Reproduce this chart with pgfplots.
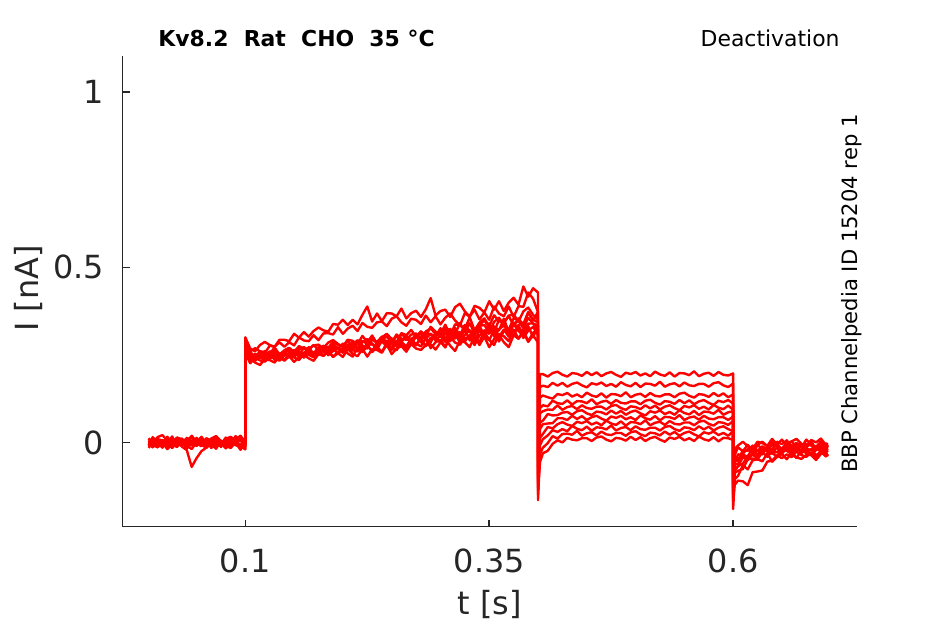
\documentclass[border=0pt]{standalone}
\usepackage{pgfplots}
\pgfplotsset{compat=1.18}
\usepackage{pgfplotstable}
\usepackage{fontspec}
\setmainfont{DejaVu Sans}
\definecolor{axgray}{HTML}{262626}

% t in ms, currents in pA
\pgfplotstableread{
t A B C D E F G H I J K
1 -8 -11 6 11 -2 12 -16 -4 -8 1 4
5 11 3 -12 -10 4 -2 3 -14 15 -8 -9
10 6 10 -1 9 -11 15 -14 7 1 12 -13
15 -3 -4 -15 6 7 21 0 0 -6 -13 -2
20 16 -14 8 -3 -6 5 -19 11 10 -1 -2
25 -1 7 -6 17 -10 -5 -5 -7 -11 5 -16
30 13 0 -13 -8 1 14 2 4 8 -10 1
35 -6 11 3 4 1 9 -12 -10 5 8 7
40 8 -7 -18 10 -13 0 -22 13 -4 -5 -9
45 15 4 1 -5 4 19 -70 -1 16 -9 -19
50 1 -10 -2 13 10 2 -45 -8 -9 2 0
55 -9 13 -11 0 -6 16 -25 8 3 2 -5
60 12 -1 9 -4 -16 -3 -15 -13 9 -12 -14
65 5 -8 -16 7 3 11 -4 6 -6 5 5
70 16 8 -4 7 -2 18 -18 3 12 11 -12
75 -2 -13 2 -7 -11 4 5 -6 -1 -5 2
80 9 6 -13 10 8 -6 -9 14 -5 -15 -17
85 -5 3 5 16 -9 15 -16 -11 6 4 -3
90 18 -6 -8 0 5 8 0 1 6 -1 4
95 4 14 -12 -10 -14 19 -21 7 -8 -10 -10
100 -3 -11 -1 9 0 1 -2 -8 9 9 -20
100 300 290 275 268 262 280 258 270 255 250 265
105 268 260 259 252 252 236 246 233 226 240 227
110 260 269 242 249 237 249 233 253 243 228 246
115 278 260 260 243 249 255 246 243 234 221 242
120 287 255 258 261 238 243 231 238 231 238 253
125 278 276 253 248 259 260 244 253 243 235 238
130 273 273 271 261 248 251 252 236 244 228 249
135 293 286 251 246 244 248 241 253 233 246 238
140 293 273 263 259 259 259 235 252 248 233 259
145 289 286 270 267 243 261 254 246 255 246 248
150 310 277 258 256 260 250 250 264 243 230 243
155 299 300 275 250 259 266 261 244 235 243 258
160 315 291 267 270 253 272 247 256 253 250 242
165 302 289 265 266 272 261 258 263 250 240 259
170 318 306 277 278 252 254 248 251 243 233 257
175 328 292 279 264 265 272 268 268 262 252 252
180 320 311 269 276 271 269 258 260 248 247 270
185 316 312 285 270 260 263 253 257 261 258 249
190 338 308 292 287 277 282 269 269 245 244 261
195 336 329 281 279 268 268 252 270 259 255 268
200 350 310 274 273 266 282 270 260 266 244 256
205 335 325 293 292 279 264 269 278 254 267 276
210 350 333 290 269 281 281 262 285 245 253 263
215 337 318 280 291 266 291 285 270 270 246 260
220 364 341 304 289 287 277 258 261 264 267 274
225 388 330 287 282 295 268 275 283 278 245 276
230 345 327 304 305 280 293 283 280 258 266 261
235 368 343 283 278 271 287 266 270 273 264 282
240 346 345 300 294 292 302 290 295 258 256 289
245 369 332 310 302 290 282 276 277 285 280 274
250 368 353 295 285 280 297 272 295 270 252 264
255 360 360 286 308 305 283 286 274 263 268 285
260 382 343 312 296 287 310 287 291 285 275 283
265 354 333 306 293 305 295 274 301 262 259 272
270 369 353 321 308 283 289 295 286 283 281 297
275 376 350 302 310 301 311 302 277 282 268 279
280 358 338 317 296 310 289 286 302 274 264 296
285 380 362 303 317 296 311 277 296 297 278 275
290 412 343 330 325 286 309 299 310 269 280 292
295 362 360 316 310 312 302 296 291 286 265 302
300 375 337 310 301 305 326 285 305 293 285 287
305 379 356 336 326 325 294 314 287 273 298 271
310 358 368 305 321 298 316 289 324 302 276 306
315 386 348 337 308 318 327 313 303 285 261 296
320 396 334 334 341 298 305 284 294 279 291 315
325 374 369 324 316 335 335 307 322 298 286 288
330 359 359 357 340 315 318 320 291 299 272 307
335 390 379 320 311 306 313 299 322 278 304 286
340 384 351 342 335 334 333 286 318 306 278 322
345 371 371 354 348 303 335 320 307 316 302 302
350 403 350 332 328 334 315 310 340 293 272 292
355 379 388 363 315 331 344 329 302 278 295 320
360 403 368 346 350 320 356 302 323 309 307 288
365 375 360 342 341 353 335 322 334 303 286 319
370 399 388 362 361 315 322 302 312 289 272 315
375 413 358 365 334 337 354 338 342 322 306 304
380 393 389 345 354 348 350 318 324 296 296 336
385 445 387 374 334 326 338 304 319 319 315 298
390 416 428 385 371 356 372 332 339 289 287 319
395 440 410 364 351 339 348 300 340 313 306 330
400 428 372 350 342 334 373 334 320 325 285 307
400 -30 -50 -70 -90 -110 -120 -165 -100 -130 -140 -150
402 195 158 128 98 83 57 38 12 -8 -33 -57
405 195 162 134 106 89 62 52 24 9 -15 -31
410 188 158 129 103 94 81 54 44 20 -2 -24
415 198 170 125 119 93 77 55 40 35 18 -4
420 202 162 138 112 106 78 69 52 30 11 6
425 193 170 135 110 93 85 69 58 38 24 0
430 188 159 141 120 101 87 64 51 32 25 13
435 198 167 131 108 104 79 76 47 47 22 8
440 196 171 137 118 95 89 67 59 39 33 6
445 190 163 129 117 106 92 75 55 35 19 12
450 201 157 142 112 98 83 64 61 45 26 12
455 192 169 134 123 96 78 72 51 33 29 4
460 200 165 130 109 102 88 76 57 43 20 14
465 189 171 140 116 102 86 68 49 42 31 17
470 197 161 128 119 94 80 62 62 37 23 8
475 201 167 138 110 104 91 74 54 48 21 3
480 193 159 137 121 107 82 70 50 34 27 13
485 187 172 132 113 98 90 76 60 41 27 11
490 199 164 143 111 93 79 66 48 44 19 5
495 195 160 129 117 103 87 72 58 35 29 16
500 201 170 136 117 101 91 64 57 46 32 7
505 191 158 139 109 95 83 77 52 38 23 15
510 197 168 130 119 106 77 69 63 36 18 4
515 189 167 141 122 97 89 65 49 42 28 12
520 202 162 133 113 105 85 75 56 42 26 16
525 194 173 131 108 94 91 63 59 34 20 8
530 190 159 137 118 102 81 73 50 44 31 2
535 200 166 137 116 106 87 72 61 47 22 14
540 188 169 129 110 98 79 67 53 38 30 10
545 198 160 139 121 92 92 78 51 33 19 16
550 197 171 142 112 104 84 64 57 43 27 6
555 192 163 133 120 100 80 71 57 41 31 12
560 203 161 128 109 106 90 74 49 35 23 4
565 189 167 138 117 96 78 65 59 46 17 17
570 196 167 136 121 102 88 76 62 37 29 9
575 199 159 130 113 94 87 68 53 45 25 5
580 190 169 141 107 107 82 66 48 34 31 15
585 201 172 132 119 99 93 72 58 42 21 3
590 193 163 140 115 95 79 72 56 46 27 13
595 191 158 129 121 105 86 64 50 38 19 12
600 197 168 137 111 93 89 74 61 32 32 7
600 -60 -80 -100 -120 -140 -150 -190 -130 -160 -170 -110
602 -18 -34 -42 -58 -62 -79 -86 -120 -77 -104 -47
605 -9 -14 -52 -34 -62 -68 -81 -109 -68 -96 -53
610 2 -25 -22 -38 -31 -60 -76 -111 -42 -65 -31
615 -11 -7 -24 -39 -49 -41 -48 -122 -51 -77 -19
620 -19 -23 -9 -18 -32 -35 -46 -85 -33 -51 -29
625 2 -7 -24 -36 -22 -45 -49 -83 -41 -48 -8
630 -2 2 -11 -14 -34 -25 -27 -80 -15 -54 -18
635 -10 -11 -23 -16 -14 -17 -41 -55 -26 -31 -21
640 10 -21 1 -23 -26 -31 -26 -52 -32 -55 -8
645 -6 2 -11 -1 -28 -39 -42 -37 -14 -41 -7
650 8 -5 -18 -26 -16 -19 -27 -45 -33 -33 -20
655 -11 6 -2 -14 -16 -24 -20 -34 -14 -48 -3
660 3 -12 -23 -8 -30 -33 -34 -42 -17 -30 3
665 10 -1 -4 -23 -13 -14 -44 -26 -26 -43 -13
670 -4 -15 -7 -5 -7 -31 -23 -36 -6 -47 -23
675 -14 8 -16 -18 -23 -17 -30 -41 -31 -36 -4
680 7 -6 4 -22 -33 -36 -19 -29 -19 -36 -9
685 0 -13 -21 -11 -14 -22 -37 -44 -13 -50 -18
690 11 3 -9 -11 -19 -15 -26 -31 -28 -33 1
695 -7 -18 -3 -25 -28 -29 -40 -33 -10 -27 -16
697 -2 -8 -12 -18 -22 -24 -33 -38 -18 -40 -9
}\traces

\begin{document}
\begin{tikzpicture}
\path[use as bounding box] (-61.35bp,-48.75bp) rectangle (411.15bp,263.25bp);
\begin{axis}[
  at={(0,0)}, anchor=south west,
  scale only axis, width=367.15bp, height=235.25bp,
  xmin=-0.0257, xmax=0.727, ymin=-0.240, ymax=1.103,
  axis x line*=bottom, axis y line*=left,
  axis line style={axgray, line width=0.75bp},
  tick style={axgray, line width=0.75bp},
  tick align=inside, major tick length=3.5bp,
  xtick={0.1,0.35,0.6}, xticklabels={0.1,0.35,0.6},
  ytick={0,0.5,1}, yticklabels={0,0.5,1},
  ticklabel style={font=\fontsize{16}{16}\selectfont, text=axgray, inner sep=0pt},
  xticklabel style={anchor=base, yshift=-23bp},
  yticklabel style={anchor=east, xshift=-9.2bp},
  xlabel={t [s]}, ylabel={I [nA]},
  label style={font=\fontsize{16}{16}\selectfont, text=axgray, inner sep=0pt},
  xlabel style={at={(axis description cs:0.5,0)}, anchor=base, yshift=-43.75bp},
  ylabel style={at={(axis description cs:-0.115,0.506)}, anchor=base},
]
\pgfplotsinvokeforeach{A,B,C,D,E,F,G,H,I,J,K}{
  \addplot[red, no markers, line width=1.2bp, line join=round] table[x expr=\thisrow{t}/1000, y expr=\thisrow{#1}/1000]{\traces};
}
\end{axis}
\node[anchor=base west, inner sep=0pt, font=\bfseries\fontsize{11}{11}\selectfont] at (17.65bp,239.75bp) {Kv8.2~~Rat~~CHO~~35~°C};
\node[anchor=base east, inner sep=0pt, font=\fontsize{11}{11}\selectfont] at (358.65bp,239.75bp) {Deactivation};
\node[rotate=90, anchor=base west, inner sep=0pt, font=\fontsize{10.6}{10.6}\selectfont] at (367.15bp,26.75bp) {BBP Channelpedia ID 15204 rep 1};
\end{tikzpicture}
\end{document}
